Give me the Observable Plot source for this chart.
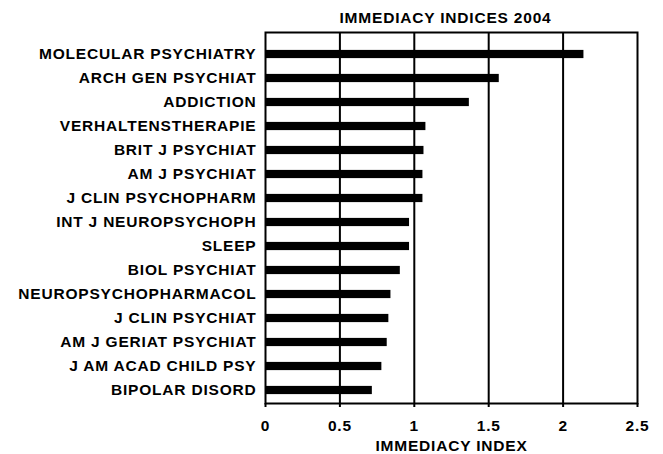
<!DOCTYPE html>
<html>
<head>
<meta charset="utf-8">
<script src="https://cdn.jsdelivr.net/npm/d3@7"></script>
<script src="https://cdn.jsdelivr.net/npm/@observablehq/plot@0.6"></script>
<style>
  html, body { margin: 0; padding: 0; background: #fff; }
  #chart svg text { letter-spacing: 0.8px; }
</style>
</head>
<body>
<div id="chart"></div>
<script>
const journals = [
  "MOLECULAR PSYCHIATRY",
  "ARCH GEN PSYCHIAT",
  "ADDICTION",
  "VERHALTENSTHERAPIE",
  "BRIT J PSYCHIAT",
  "AM J PSYCHIAT",
  "J CLIN PSYCHOPHARM",
  "INT J NEUROPSYCHOPH",
  "SLEEP",
  "BIOL PSYCHIAT",
  "NEUROPSYCHOPHARMACOL",
  "J CLIN PSYCHIAT",
  "AM J GERIAT PSYCHIAT",
  "J AM ACAD CHILD PSY",
  "BIPOLAR DISORD"
];
const indices = [2.14, 1.571, 1.37, 1.078, 1.065, 1.058, 1.058, 0.968, 0.968, 0.906, 0.843, 0.829, 0.818, 0.782, 0.718];
const xTicks = [0, 0.5, 1, 1.5, 2, 2.5];
const gridValues = [0.5, 1, 1.5, 2];
const titleText = "IMMEDIACY INDICES 2004";
const xLabel = "IMMEDIACY INDEX";

const data = journals.map((j, i) => ({journal: j, value: indices[i]}));

const chart = Plot.plot({
  width: 663,
  height: 454,
  marginLeft: 265,
  marginRight: 26,
  marginTop: 32,
  marginBottom: 51,
  style: {fontFamily: "'Liberation Sans', Arial, sans-serif", fontWeight: "bold", fontSize: "15.5px", color: "#000", background: "#fff"},
  x: {domain: [0, 2.5]},
  y: {domain: journals, range: [36.6, 408.2], padding: 0},
  marks: [
    Plot.ruleX(gridValues, {stroke: "#000", strokeWidth: 2}),
    Plot.barX(data, {x: "value", y: "journal", fill: "#000", insetTop: 7.9, insetBottom: 7.9}),
    Plot.frame({stroke: "#000", strokeWidth: 2}),
    Plot.axisY({tickSize: 0, tickPadding: 9, label: null, fontSize: 15.5}),
    Plot.axisX({ticks: xTicks, tickFormat: d => String(d), tickSize: 4, tickPadding: 12, strokeWidth: 2,
      label: xLabel, labelAnchor: "center", labelArrow: "none", labelOffset: 47, fontSize: 15.5}),
    Plot.text([titleText], {frameAnchor: "top", dy: -21, dx: -6, fontSize: 15.5, fontWeight: "bold", fill: "#000"})
  ]
});
document.getElementById("chart").appendChild(chart);
</script>
</body>
</html>
